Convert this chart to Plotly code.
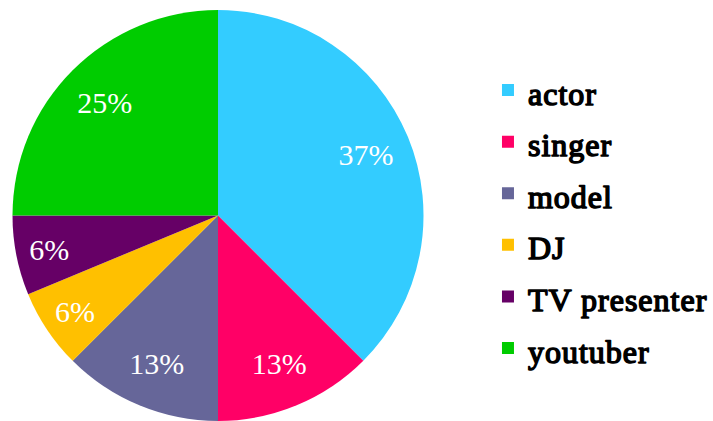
import plotly.graph_objects as go

labels = ["actor", "singer", "model", "DJ", "TV presenter", "youtuber"]
values = [6, 2, 2, 1, 1, 4]
pct_text = ["37%", "13%", "13%", "6%", "6%", "25%"]
colors = ["#33CCFF", "#FF0066", "#666699", "#FFC000", "#660066", "#00CC00"]

# Times-like serif; bold face is emulated with a thin stroke
legend_style = ("font-size:32px;font-family:Liberation Serif;letter-spacing:1px;"
                "stroke:black;stroke-width:1.5px;stroke-linejoin:round")
legend_names = [f"<span style='{legend_style}'>{l}</span>" for l in labels]
dom = dict(x=[0, 412 / 701], y=[0, 1])

fig = go.Figure()
fig.add_trace(go.Pie(
    labels=legend_names,
    values=values,
    textinfo="none",
    sort=False,
    direction="clockwise",
    marker=dict(colors=colors, line=dict(width=0)),
    domain=dom,
    hoverinfo="skip",
))
fig.add_trace(go.Pie(
    labels=legend_names,
    values=values,
    text=pct_text,
    textinfo="text",
    textposition="inside",
    insidetextorientation="horizontal",
    sort=False,
    direction="clockwise",
    hole=0.56,
    marker=dict(colors=["rgba(0,0,0,0)"] * len(values), line=dict(width=0)),
    textfont=dict(family="Liberation Serif", size=30, color="white"),
    domain=dom,
    showlegend=False,
    hoverinfo="skip",
))

fig.update_layout(
    width=713, height=421,
    margin=dict(l=12, r=0, t=10, b=0),
    paper_bgcolor="white",
    plot_bgcolor="white",
    showlegend=True,
    legend=dict(
        x=0.679, xanchor="left",
        y=0.491, yanchor="middle",
        font=dict(family="Liberation Serif", size=37.4, color="black"),
        traceorder="normal",
    ),
)

fig.write_html("out.html")
